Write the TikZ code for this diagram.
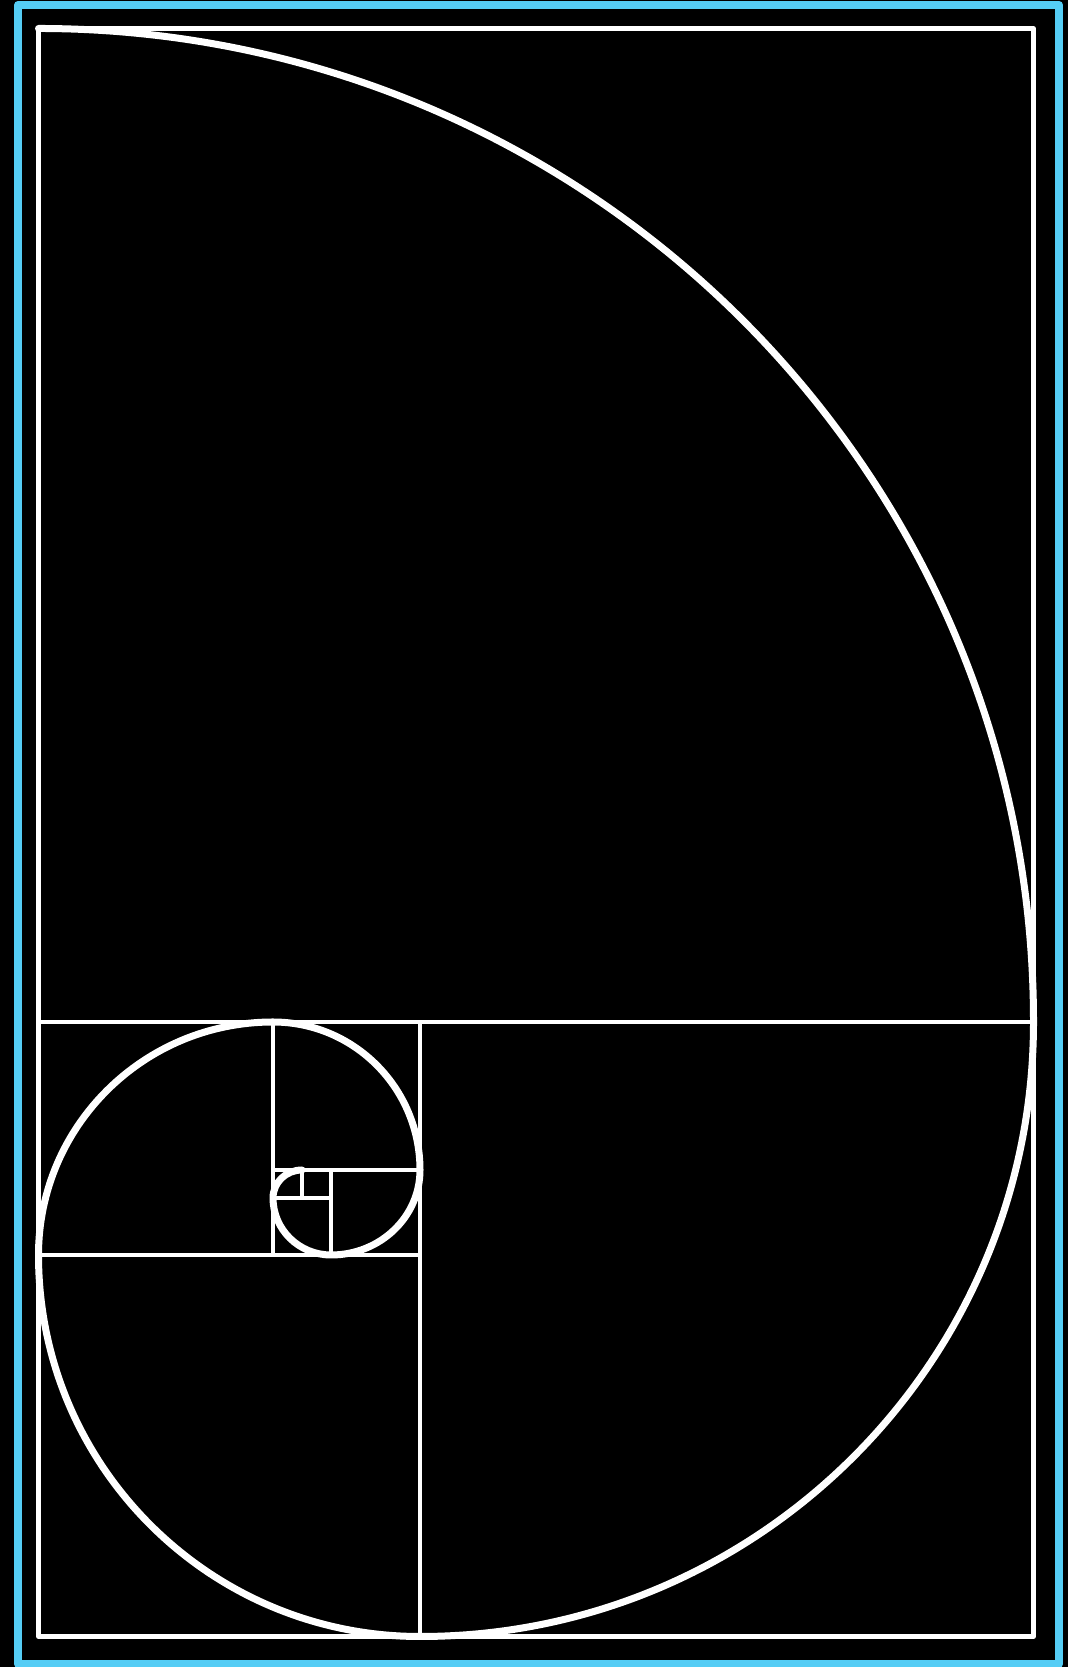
\documentclass[tikz,border=0pt]{standalone}
\definecolor{framecyan}{RGB}{85,205,245}
\begin{document}
\begin{tikzpicture}[x=1pt,y=1pt,line join=round,
  gridline/.style={draw=white,line width=4.5pt},
  spiralline/.style={draw=white,line width=7pt,line cap=round}]
  % 背景与外框
  \useasboundingbox (0,0) rectangle (1068,1667);
  \fill[black] (0,0) rectangle (1068,1667);
  \draw[framecyan,line width=8pt] (18,3) rectangle (1059,1662);
  % 黄金矩形
  \draw[gridline] (38.5,30.5) rectangle (1033.5,1638.5);
  % 分割正方形
  \draw[gridline] (38.5,645) -- (1033.5,645);
  \draw[gridline] (420,30.5) -- (420,645);
  \draw[gridline] (38.5,412) -- (420,412);
  \draw[gridline] (273,412) -- (273,645);
  \draw[gridline] (273,497) -- (420,497);
  \draw[gridline] (331,412) -- (331,497);
  \draw[gridline] (273,469) -- (331,469);
  \draw[gridline] (302,469) -- (302,497);
  % 螺旋线
  \draw[spiralline] (38.5,1638.5)
    foreach \a/\rx/\ry in {90/995/993.5, 0/613.5/614.5, -90/381.5/381.5,
      180/234.5/233, 90/147/148, 0/89/85, -90/58/57, 180/29/28}{
      arc[start angle=\a, delta angle=-90, x radius=\rx, y radius=\ry]
    };
\end{tikzpicture}
\end{document}
